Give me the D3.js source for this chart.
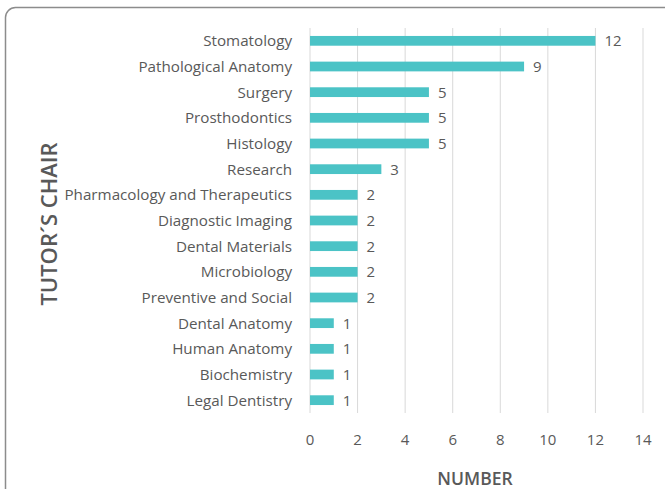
<!DOCTYPE html>
<html>
<head>
<meta charset="utf-8">
<script src="https://cdn.jsdelivr.net/npm/d3@7"></script>
<style>
  body { margin: 0; background: #fff; }
  text { font-family: "Open Sans", "Liberation Sans", sans-serif; fill: #595959; }
</style>
</head>
<body>
<div id="chart"></div>
<script>
// data
var chairs = ["Stomatology", "Pathological Anatomy", "Surgery", "Prosthodontics", "Histology",
  "Research", "Pharmacology and Therapeutics", "Diagnostic Imaging", "Dental Materials",
  "Microbiology", "Preventive and Social", "Dental Anatomy", "Human Anatomy",
  "Biochemistry", "Legal Dentistry"];
var counts = [12, 9, 5, 5, 5, 3, 2, 2, 2, 2, 2, 1, 1, 1, 1];
var xTicks = [0, 2, 4, 6, 8, 10, 12, 14];

var W = 665, H = 489;
var margin = {top: 28, right: 22, bottom: 76, left: 310},
    width = W - margin.left - margin.right,
    height = H - margin.top - margin.bottom;

var svg = d3.select("#chart").append("svg")
    .attr("width", W).attr("height", H);

// frame
svg.append("rect")
    .attr("x", 5.5).attr("y", 7.5)
    .attr("width", W + 20).attr("height", H + 20)
    .attr("rx", 10).attr("ry", 10)
    .style("fill", "none").style("stroke", "#8c8c8c").style("stroke-width", 1.5);

var g = svg.append("g")
    .attr("transform", "translate(" + margin.left + "," + margin.top + ")");

var x = d3.scaleLinear().domain([0, 14]).range([0, 333]);
var y = d3.scaleBand().domain(chairs).range([0, 385]).paddingInner(0.62).paddingOuter(0.31);

// gridlines
g.selectAll(".grid").data(xTicks).enter().append("line")
    .attr("x1", function(d) { return x(d); }).attr("x2", function(d) { return x(d); })
    .attr("y1", 0).attr("y2", 385)
    .style("stroke", "#d9d9d9").style("stroke-width", 1);

// bars
g.selectAll(".bar").data(chairs).enter().append("rect")
    .attr("x", x(0))
    .attr("y", function(d) { return y(d); })
    .attr("width", function(d, i) { return x(counts[i]) - x(0); })
    .attr("height", y.bandwidth())
    .style("fill", "#4bc3c6");

// value labels
g.selectAll(".val").data(chairs).enter().append("text")
    .attr("x", function(d, i) { return x(counts[i]) + 9; })
    .attr("y", function(d) { return y(d) + y.bandwidth() / 2; })
    .attr("dy", "0.36em")
    .style("font-size", "15px")
    .text(function(d, i) { return counts[i]; });

// category labels
g.selectAll(".cat").data(chairs).enter().append("text")
    .attr("x", -18)
    .attr("y", function(d) { return y(d) + y.bandwidth() / 2; })
    .attr("dy", "0.36em")
    .attr("text-anchor", "end")
    .style("font-size", "15.2px")
    .text(function(d) { return d; });

// x tick labels
g.selectAll(".tick").data(xTicks).enter().append("text")
    .attr("x", function(d) { return x(d); })
    .attr("y", 417)
    .attr("text-anchor", "middle")
    .style("font-size", "15px")
    .text(function(d) { return d; });

// axis titles
svg.append("text")
    .attr("x", 475).attr("y", 485)
    .attr("text-anchor", "middle")
    .style("font-size", "17.5px").style("font-weight", "600")
    .text("NUMBER");

svg.append("text")
    .attr("transform", "translate(57,224) rotate(-90)")
    .attr("text-anchor", "middle")
    .style("font-size", "22px").style("font-weight", "600")
    .text("TUTOR´S CHAIR");
</script>
</body>
</html>
